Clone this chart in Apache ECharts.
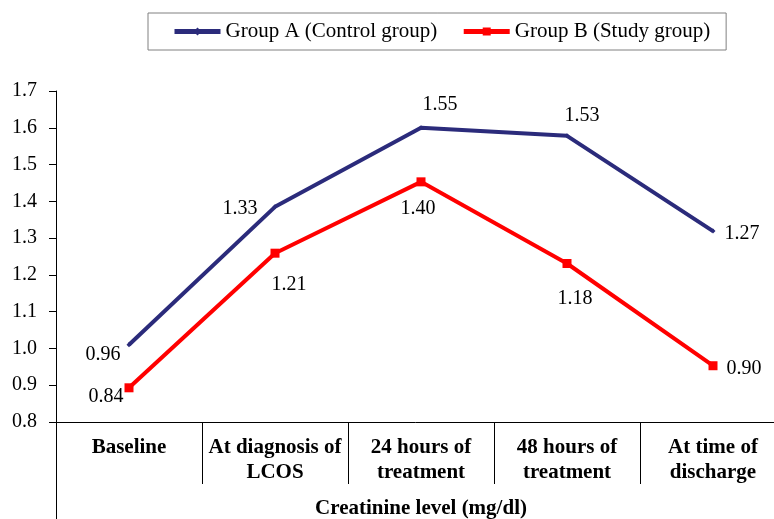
<!DOCTYPE html>
<html>
<head>
<meta charset="utf-8">
<script src="https://cdn.jsdelivr.net/npm/echarts@6/dist/echarts.min.js"></script>
<style>
  html, body { margin: 0; padding: 0; background: #ffffff; }
  #main { width: 774px; height: 519px; }
</style>
</head>
<body>
<div id="main"></div>
<script>
const categories = [
  "Baseline",
  "At diagnosis of\nLCOS",
  "24 hours of\ntreatment",
  "48 hours of\ntreatment",
  "At time of\ndischarge",
];
const seriesNames = ["Group A (Control group)", "Group B (Study group)"];
// plotted positions as drawn in the picture
const groupA = [1.01, 1.385, 1.6, 1.578, 1.319];
const groupB = [0.893, 1.259, 1.453, 1.231, 0.953];
// printed data labels
const groupALabels = ["0.96", "1.33", "1.55", "1.53", "1.27"];
const groupBLabels = ["0.84", "1.21", "1.40", "1.18", "0.90"];
const yTicks = [0.8, 0.9, 1.0, 1.1, 1.2, 1.3, 1.4, 1.5, 1.6, 1.7];

// label placement for each point
const labelPosA = [
  { position: "left", distance: 6, offset: [0, 10] },
  { position: "left", distance: 15, offset: [0, 2] },
  { position: "top", distance: 11, offset: [19, 0] },
  { position: "top", distance: 8, offset: [15, 0] },
  { position: "right", distance: 9, offset: [0, 3] },
];
const labelPosB = [
  { position: "left", distance: 1, offset: [0, 9] },
  { position: "bottom", distance: 17, offset: [14, 0] },
  { position: "bottom", distance: 12, offset: [-3, 0] },
  { position: "bottom", distance: 21, offset: [8, 0] },
  { position: "right", distance: 9, offset: [0, 3] },
];

const font = "Liberation Serif";

function buildData(values, labels, pos) {
  return values.map((v, i) => ({
    value: v,
    label: Object.assign({ formatter: labels[i] }, pos[i]),
  }));
}

let myChart = echarts.init(document.getElementById("main"));
myChart.setOption({
  animation: false,
  backgroundColor: "#ffffff",
  textStyle: { fontFamily: font },
  legend: {
    left: 148,
    top: 13,
    padding: [8, 16, 8, 24],
    itemGap: 24,
    itemWidth: 46,
    itemHeight: 10,
    borderColor: "#808080",
    borderWidth: 1,
    borderRadius: 0,
    lineStyle: { width: 5 },
    textStyle: { fontFamily: font, fontSize: 21, color: "#000000" },
    data: seriesNames,
  },
  grid: {
    left: 56,
    width: 730,
    top: 91,
    bottom: 97,
    containLabel: false,
    outerBoundsMode: "none",
  },
  xAxis: [
    {
      type: "category",
      data: categories,
      boundaryGap: true,
      axisLine: { show: true, lineStyle: { color: "#000000", width: 1 } },
      axisTick: { show: true, interval: 0, length: 62, lineStyle: { color: "#000000" } },
      axisLabel: {
        interval: 0,
        margin: 13,
        fontFamily: font,
        fontSize: 21,
        fontWeight: "bold",
        lineHeight: 25,
        color: "#000000",
      },
      name: "Creatinine level (mg/dl)",
      nameLocation: "middle",
      nameGap: 76,
      nameTextStyle: {
        fontFamily: font,
        fontSize: 21,
        fontWeight: "bold",
        color: "#000000",
      },
    },
    {
      type: "category",
      data: [""],
      position: "bottom",
      boundaryGap: true,
      axisLine: { show: false },
      axisTick: { show: true, length: 100, lineStyle: { color: "#000000" } },
      axisLabel: { show: false },
    },
  ],
  yAxis: {
    type: "value",
    min: yTicks[0],
    max: yTicks[yTicks.length - 1],
    interval: 0.1,
    axisLine: { show: true, lineStyle: { color: "#000000", width: 1 } },
    axisTick: { show: true, length: 7, lineStyle: { color: "#000000" } },
    splitLine: { show: false },
    axisLabel: {
      margin: 19,
      fontFamily: font,
      fontSize: 20,
      color: "#000000",
      formatter: (v) => v.toFixed(1),
    },
  },
  series: [
    {
      name: seriesNames[0],
      type: "line",
      xAxisIndex: 0,
      data: buildData(groupA, groupALabels, labelPosA),
      symbol: "diamond",
      symbolSize: 5,
      showAllSymbol: true,
      color: "#2B2B7B",
      lineStyle: { width: 4, color: "#2B2B7B" },
      itemStyle: { color: "#2B2B7B" },
      label: { show: true, fontFamily: font, fontSize: 20, color: "#000000" },
    },
    {
      name: seriesNames[1],
      type: "line",
      xAxisIndex: 0,
      data: buildData(groupB, groupBLabels, labelPosB),
      symbol: "rect",
      symbolSize: 9,
      showAllSymbol: true,
      color: "#FF0000",
      lineStyle: { width: 4, color: "#FF0000" },
      itemStyle: { color: "#FF0000" },
      label: { show: true, fontFamily: font, fontSize: 20, color: "#000000" },
    },
  ],
});
</script>
</body>
</html>
